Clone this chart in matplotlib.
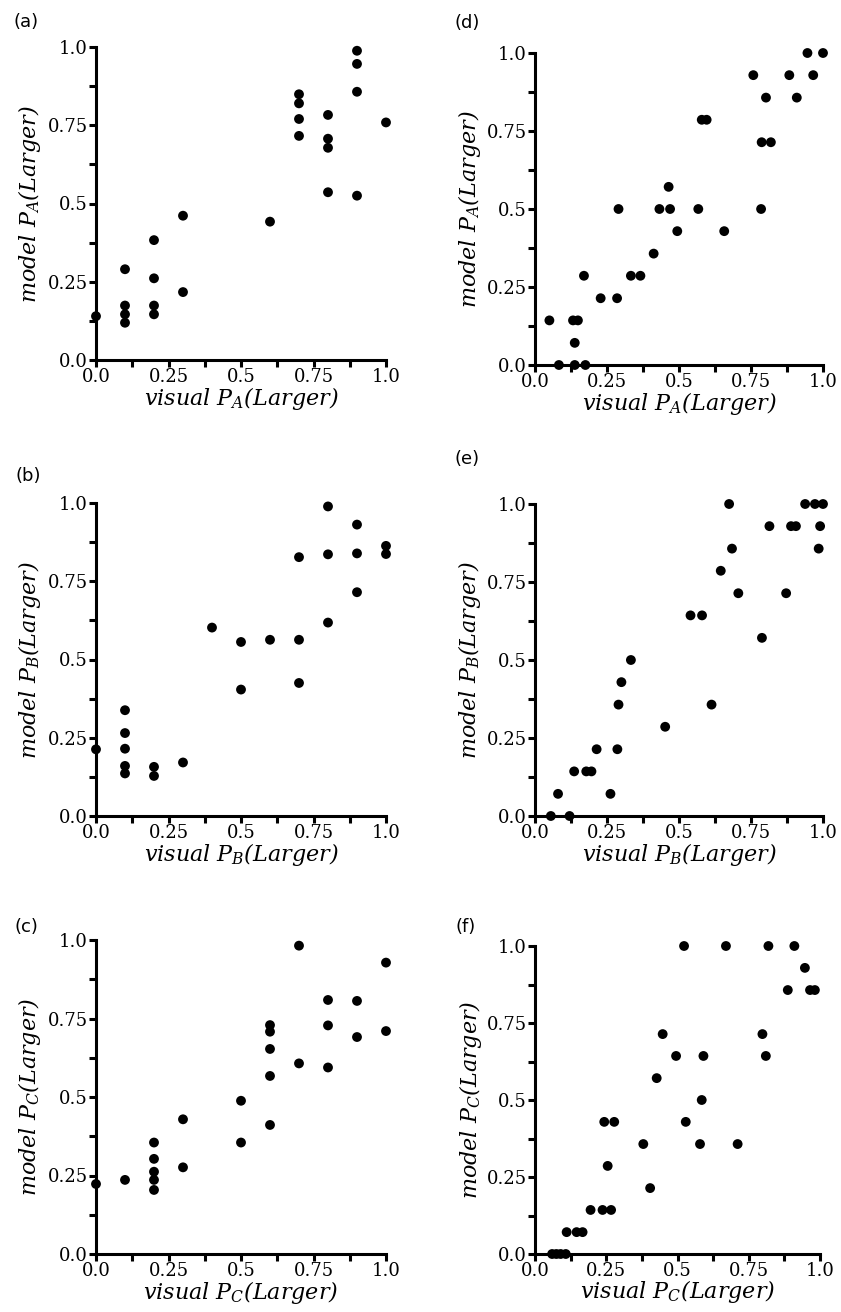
import matplotlib
matplotlib.use('Agg')
import matplotlib.pyplot as plt
import numpy as np

plt.rcParams['mathtext.fontset'] = 'dejavuserif'

# panel (a): visual vs model P_A
a_x = [0.0, 0.1, 0.1, 0.1, 0.1, 0.2, 0.2, 0.2, 0.2, 0.3, 0.3, 0.6,
       0.7, 0.7, 0.7, 0.7, 0.8, 0.8, 0.8, 0.8, 0.9, 0.9, 0.9, 0.9, 1.0]
a_y = [0.14, 0.29, 0.174, 0.146, 0.119, 0.383, 0.261, 0.174, 0.146, 0.461, 0.217, 0.442,
       0.849, 0.82, 0.77, 0.716, 0.783, 0.707, 0.678, 0.536, 0.988, 0.946, 0.857, 0.525, 0.759]

# panel (b)
b_x = [0.0, 0.1, 0.1, 0.1, 0.1, 0.1, 0.2, 0.2, 0.3, 0.4, 0.5, 0.5, 0.6,
       0.7, 0.7, 0.7, 0.8, 0.8, 0.8, 0.9, 0.9, 0.9, 1.0, 1.0]
b_y = [0.213, 0.338, 0.265, 0.215, 0.16, 0.136, 0.157, 0.128, 0.171, 0.602, 0.556, 0.404, 0.563,
       0.827, 0.563, 0.425, 0.989, 0.836, 0.618, 0.931, 0.839, 0.715, 0.863, 0.837]

# panel (c)
c_x = [0.0, 0.1, 0.2, 0.2, 0.2, 0.2, 0.2, 0.3, 0.3, 0.5, 0.5,
       0.6, 0.6, 0.6, 0.6, 0.6, 0.7, 0.7, 0.8, 0.8, 0.8, 0.9, 0.9, 1.0, 1.0]
c_y = [0.223, 0.236, 0.355, 0.303, 0.262, 0.236, 0.204, 0.429, 0.276, 0.488, 0.355,
       0.729, 0.708, 0.653, 0.567, 0.411, 0.982, 0.607, 0.809, 0.728, 0.594, 0.806, 0.691, 0.928, 0.71]

# panel (d)
d_x = [0.05, 0.083, 0.132, 0.149, 0.138, 0.138, 0.175, 0.17, 0.228, 0.285, 0.29, 0.333, 0.366,
       0.412, 0.432, 0.469, 0.464, 0.494, 0.567, 0.579, 0.596, 0.657, 0.758, 0.785, 0.787,
       0.819, 0.802, 0.883, 0.909, 0.946, 0.966, 1.0]
d_y = [0.143, 0.0, 0.143, 0.143, 0.071, 0.0, 0.0, 0.286, 0.214, 0.214, 0.5, 0.286, 0.286,
       0.357, 0.5, 0.5, 0.571, 0.429, 0.5, 0.786, 0.786, 0.429, 0.929, 0.5, 0.714,
       0.714, 0.857, 0.929, 0.857, 1.0, 0.929, 1.0]

# panel (e)
e_x = [0.055, 0.08, 0.12, 0.136, 0.178, 0.196, 0.214, 0.262, 0.286, 0.29, 0.3, 0.333, 0.452,
       0.54, 0.58, 0.613, 0.645, 0.674, 0.684, 0.706, 0.788, 0.814, 0.872, 0.889, 0.906,
       0.938, 0.972, 1.0, 0.99, 0.985]
e_y = [0.0, 0.071, 0.0, 0.143, 0.143, 0.143, 0.214, 0.071, 0.214, 0.357, 0.429, 0.5, 0.286,
       0.643, 0.643, 0.357, 0.786, 1.0, 0.857, 0.714, 0.571, 0.929, 0.714, 0.929, 0.929,
       1.0, 1.0, 1.0, 0.929, 0.857]

# panel (f)
f_x = [0.06, 0.075, 0.09, 0.108, 0.111, 0.146, 0.167, 0.195, 0.237, 0.267, 0.243, 0.278, 0.255,
       0.38, 0.404, 0.427, 0.448, 0.495, 0.523, 0.529, 0.579, 0.585, 0.591, 0.67, 0.711,
       0.798, 0.81, 0.819, 0.887, 0.91, 0.947, 0.965, 0.982]
f_y = [0.0, 0.0, 0.0, 0.0, 0.071, 0.071, 0.071, 0.143, 0.143, 0.143, 0.429, 0.429, 0.286,
       0.357, 0.214, 0.571, 0.714, 0.643, 1.0, 0.429, 0.357, 0.5, 0.643, 1.0, 0.357,
       0.714, 0.643, 1.0, 0.857, 1.0, 0.929, 0.857, 0.857]

ticks = [0.0, 0.25, 0.5, 0.75, 1.0]
tick_labels = ['0.0', '0.25', '0.5', '0.75', '1.0']

W, H = 841, 1312
fig = plt.figure(figsize=(W / 100, H / 100), dpi=100)

# (label, subscript, x, y, left px, top px, right px, bottom px, label pos px)
panels = [
    ('(a)', 'A', a_x, a_y, 96, 47, 386, 360, (26, 22)),
    ('(b)', 'B', b_x, b_y, 96, 503, 386, 816, (28, 476)),
    ('(c)', 'C', c_x, c_y, 96, 940, 386, 1254, (26, 927)),
    ('(d)', 'A', d_x, d_y, 535, 53, 823, 365, (467, 23)),
    ('(e)', 'B', e_x, e_y, 535, 504, 823, 816, (467, 459)),
    ('(f)', 'C', f_x, f_y, 535, 946, 820, 1254, (466, 927)),
]

for name, sub, xs, ys, l, t, r, b, lp in panels:
    ax = fig.add_axes([l / W, 1 - b / H, (r - l) / W, (b - t) / H])
    ax.scatter(xs, ys, s=50, color='black', edgecolors='none', clip_on=False, zorder=5)
    ax.set_xlim(0, 1)
    ax.set_ylim(0, 1)
    for side in ['top', 'right']:
        ax.spines[side].set_visible(False)
    for side in ['left', 'bottom']:
        ax.spines[side].set_linewidth(2.2)
    ax.set_xticks(ticks)
    ax.set_yticks(ticks)
    ax.set_xticks([0.125, 0.375, 0.625, 0.875], minor=True)
    ax.set_yticks([0.125, 0.375, 0.625, 0.875], minor=True)
    ax.set_xticklabels(tick_labels, family='DejaVu Serif', fontsize=13)
    ax.set_yticklabels(tick_labels, family='DejaVu Serif', fontsize=13)
    ax.tick_params(which='both', direction='out', length=5, width=2.2, pad=1)
    ax.set_xlabel('visual $P_{' + sub + '}$(Larger)', family='DejaVu Serif',
                  style='italic', fontsize=16)
    ax.set_ylabel('model $P_{' + sub + '}$(Larger)', family='DejaVu Serif',
                  style='italic', fontsize=16)
    ax.xaxis.set_label_coords(0.5, -0.122)
    ax.xaxis.label.set_va('center')
    ax.yaxis.set_label_coords(-0.228, 0.5)
    ax.yaxis.label.set_va('center')
    fig.text(lp[0] / W, 1 - lp[1] / H, name, family='DejaVu Sans', fontsize=13,
             ha='center', va='center')

fig.savefig('out.png', dpi=100)
